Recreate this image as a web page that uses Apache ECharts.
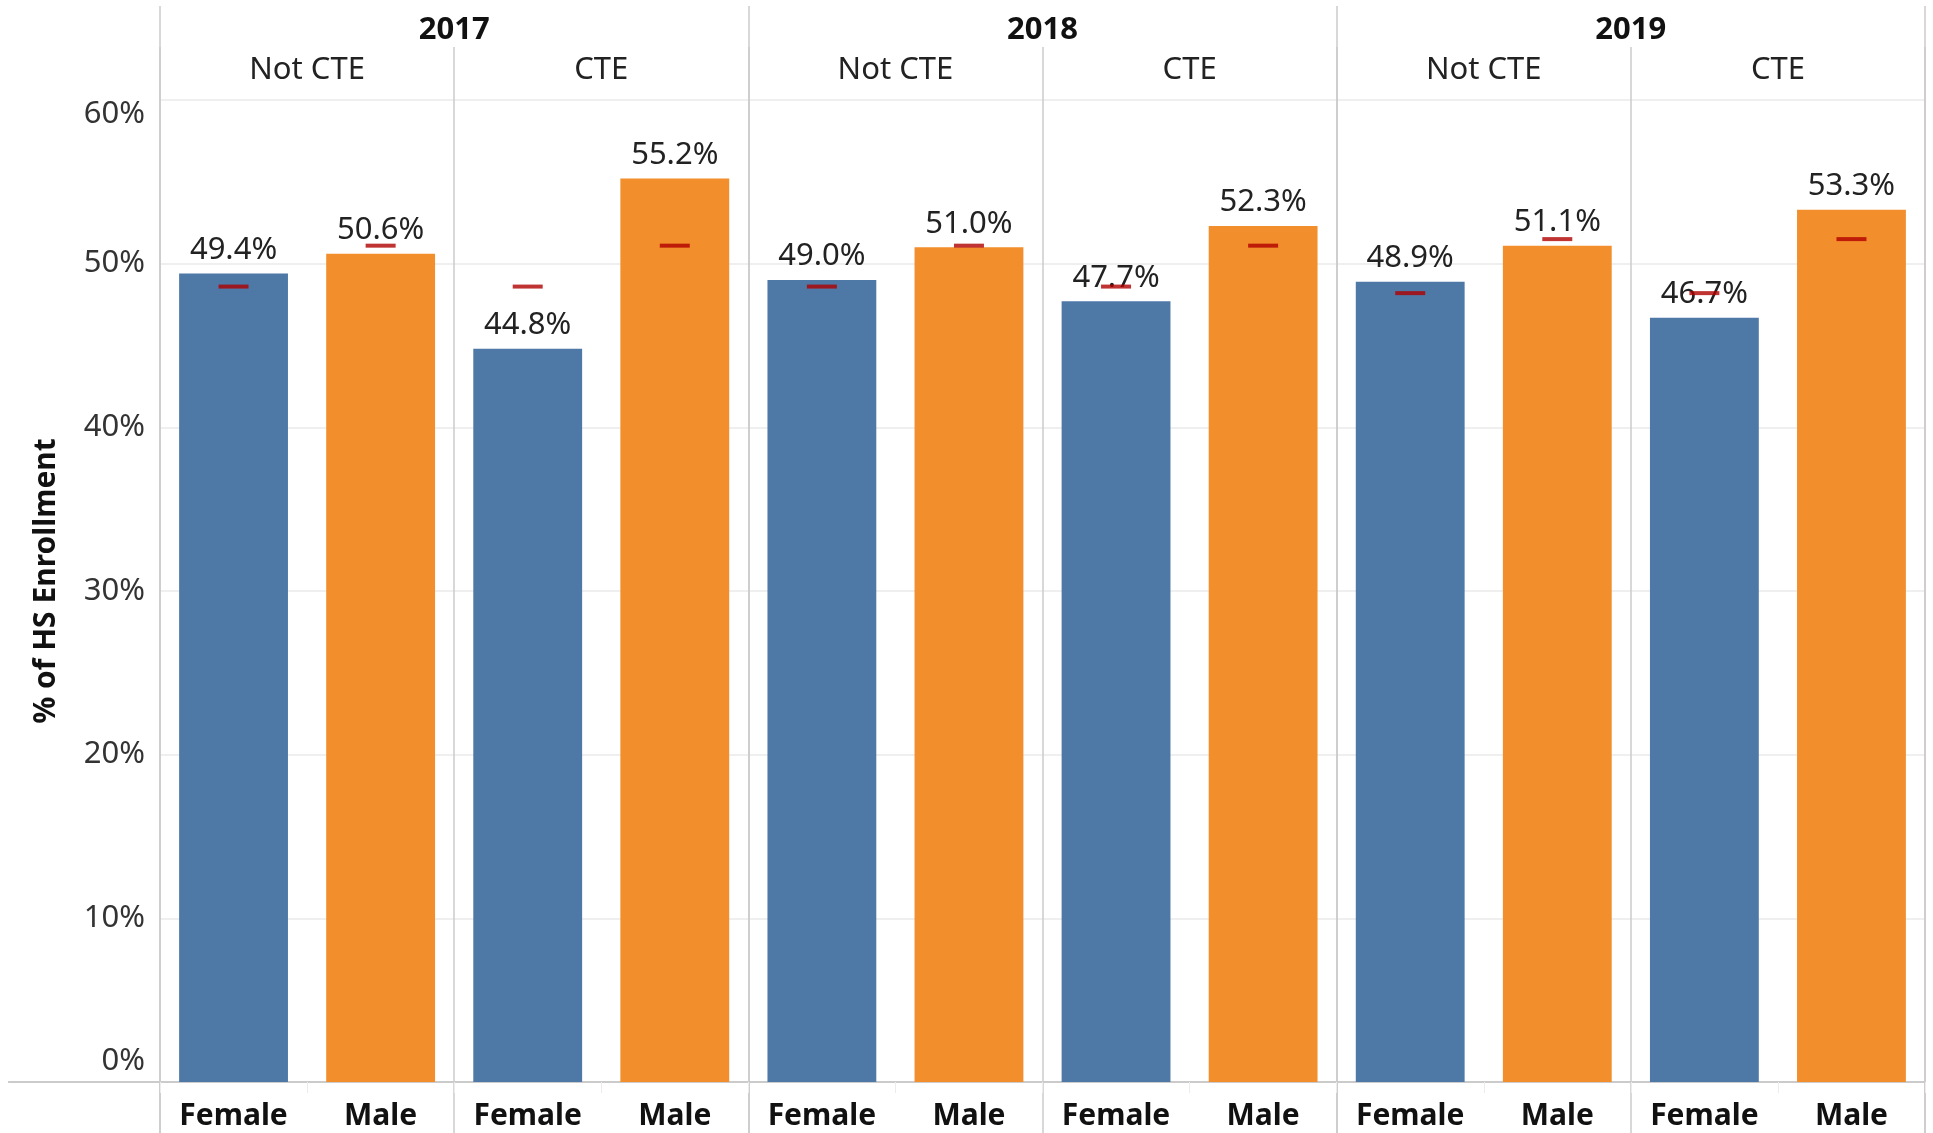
<!DOCTYPE html>
<html>
<head>
<meta charset="utf-8">
<script src="https://cdn.jsdelivr.net/npm/echarts@6/dist/echarts.min.js"></script>
<style>
html,body{margin:0;padding:0;background:#fff;}
#chart{width:1933px;height:1133px;}
</style>
</head>
<body>
<div id="chart"></div>
<script>
// ---- data ----
const years = ['2017', '2018', '2019'];
const programs = ['Not CTE', 'CTE'];
const genders = ['Female', 'Male'];
// % of HS enrollment, order: year > program > gender
const values = [49.4, 50.6, 44.8, 55.2, 49.0, 51.0, 47.7, 52.3, 48.9, 51.1, 46.7, 53.3];
// red reference marks (overall enrollment share)
const benchmarks = [48.6, 51.1, 48.6, 51.1, 48.6, 51.1, 48.6, 51.1, 48.2, 51.5, 48.2, 51.5];
const yTickLabels = ['0%', '10%', '20%', '30%', '40%', '50%', '60%'];

// ---- derived ----
const cells = [];
years.forEach(y => programs.forEach(p => cells.push(y + '|' + p)));
const cats = [];
cells.forEach((c, i) => genders.forEach(g => cats.push(g + '|' + i)));

const BLUE = '#4e79a7', ORANGE = '#f28e2b', RED = '#b00000';
const LINE = '#cbcbcb';
const FONT = 'Noto Sans';

const L = 160, R = 8;
const chart = echarts.init(document.getElementById('chart'), null, {renderer: 'canvas'});

const hiddenY = (gi) => ({type: 'value', gridIndex: gi, show: false});

const option = {
  animation: false,
  backgroundColor: '#fff',
  textStyle: {fontFamily: FONT},
  grid: [
    {left: L, right: R, top: 100, bottom: 51},          // 0 main plot
    {left: 9, right: R, top: 87, bottom: 51},           // 1 frame lines
    {left: L, right: R, top: 6, bottom: 0},             // 2 year separators
    {left: L, right: R, top: 47, bottom: 0},            // 3 cell separators
    {left: L, right: R, top: 47, bottom: 0},            // 4 year labels
    {left: L, right: R, top: 87, bottom: 0}             // 5 program labels
  ],
  xAxis: [
    { // 0
      type: 'category', gridIndex: 0, data: cats, position: 'bottom',
      axisLine: {show: false},
      axisTick: {show: true, length: 11, lineStyle: {color: '#ececec', width: 1}},
      axisLabel: {
        interval: 0, margin: 19, fontSize: 30, fontWeight: 'bold', color: '#111', fontFamily: FONT,
        formatter: v => v.split('|')[0]
      },
      splitLine: {show: false}
    },
    { // 1 top frame line
      type: 'category', gridIndex: 1, data: ['a'], position: 'top',
      axisLine: {show: true, lineStyle: {color: LINE, width: 2}},
      axisTick: {show: false}, axisLabel: {show: false}
    },
    { // 2 bottom frame line
      type: 'category', gridIndex: 1, data: ['a'], position: 'bottom',
      axisLine: {show: true, lineStyle: {color: LINE, width: 2}},
      axisTick: {show: false}, axisLabel: {show: false}
    },
    { // 3 year separators
      type: 'category', gridIndex: 2, data: years, position: 'top',
      axisLine: {show: false}, axisTick: {show: false}, axisLabel: {show: false},
      splitLine: {show: true, interval: 0, showMinLine: true, showMaxLine: true, lineStyle: {color: LINE, width: 1.5}}
    },
    { // 4 cell separators
      type: 'category', gridIndex: 3, data: cells, position: 'top',
      axisLine: {show: false}, axisTick: {show: false}, axisLabel: {show: false},
      splitLine: {show: true, interval: 0, showMinLine: true, showMaxLine: true, lineStyle: {color: LINE, width: 1.5}}
    },
    { // 5 year labels
      type: 'category', gridIndex: 4, data: years, position: 'top',
      axisLine: {show: false}, axisTick: {show: false},
      axisLabel: {interval: 0, margin: 1, fontSize: 31, fontWeight: 'bold', color: '#111', fontFamily: FONT}
    },
    { // 6 program labels
      type: 'category', gridIndex: 5, data: cells, position: 'top',
      axisLine: {show: false}, axisTick: {show: false},
      axisLabel: {interval: 0, margin: 1, fontSize: 31, color: '#222', fontFamily: FONT,
        formatter: v => v.split('|')[1]}
    }
  ],
  yAxis: [
    {
      type: 'value', gridIndex: 0, min: 0, max: 60, interval: 10,
      name: '% of HS Enrollment', nameLocation: 'middle', nameGap: 99, nameRotate: 90,
      nameTextStyle: {fontSize: 30, fontWeight: 'bold', color: '#111', fontFamily: FONT, padding: [0, 0, 0, 20]},
      axisLine: {show: false}, axisTick: {show: false},
      splitLine: {show: true, lineStyle: {color: '#efefef', width: 2}},
      axisLabel: {
        margin: 15, fontSize: 31, color: '#333', fontFamily: FONT,
        formatter: v => {
          const t = yTickLabels[Math.round(v / 10)];
          if (v === 60) return '{top|' + t + '}';
          if (v === 0) return '{bot|' + t + '}';
          return t;
        },
        rich: {
          top: {fontSize: 31, color: '#333', fontFamily: FONT, padding: [28, 0, 0, 0]},
          bot: {fontSize: 31, color: '#333', fontFamily: FONT, padding: [0, 0, 42, 0]}
        }
      }
    },
    hiddenY(1), hiddenY(2), hiddenY(3), hiddenY(4), hiddenY(5)
  ],
  series: [
    {
      type: 'bar', xAxisIndex: 0, yAxisIndex: 0,
      barCategoryGap: '26%',
      data: values.map((v, i) => ({value: v, itemStyle: {color: i % 2 === 0 ? BLUE : ORANGE}})),
      label: {
        show: true, position: 'top', distance: 8,
        fontSize: 31, color: '#222', fontFamily: FONT,
        formatter: p => p.value.toFixed(1) + '%'
      },
      z: 2
    },
    {
      type: 'scatter', xAxisIndex: 0, yAxisIndex: 0,
      symbol: 'rect', symbolSize: [30, 4],
      itemStyle: {color: RED},
      data: benchmarks,
      z: 10
    }
  ]
};
chart.setOption(option);
</script>
</body>
</html>
